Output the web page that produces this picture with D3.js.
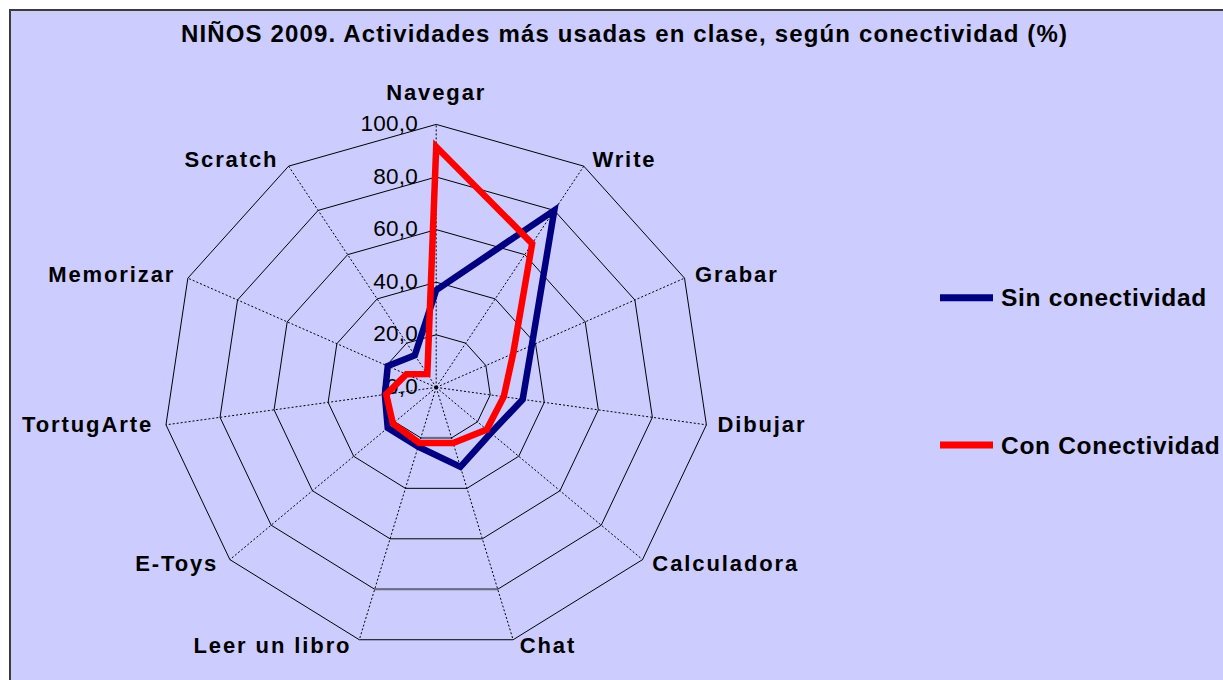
<!DOCTYPE html>
<html>
<head>
<meta charset="utf-8">
<script src="https://cdn.jsdelivr.net/npm/d3@7"></script>
<style>
  html, body { margin: 0; padding: 0; background: #ffffff; }
  svg { display: block; }
</style>
</head>
<body>
<svg id="chart" width="1223" height="680"></svg>
<script>
// ---- Data ----
const title = "NIÑOS 2009. Actividades más usadas en clase, según conectividad (%)";
const categories = ["Navegar", "Write", "Grabar", "Dibujar", "Calculadora", "Chat",
                    "Leer un libro", "E-Toys", "TortugArte", "Memorizar", "Scratch"];
const sinConectividad = [37, 80, 38.5, 32, 26.5, 31.5, 23.5, 23.5, 19, 19.5, 14.5];
const conConectividad = [91.5, 65, 31, 25, 24.5, 22, 22, 21, 18.5, 12, 6];
const seriesNames = ["Sin conectividad", "Con Conectividad"];
const seriesColors = ["#000080", "#ff0000"];
const tickValues = [0, 20, 40, 60, 80, 100];
const tickLabels = ["0,0", "20,0", "40,0", "60,0", "80,0", "100,0"];

// ---- Layout ----
const W = 1223, H = 680;
const cx = 436.2, cy = 387.4;
const RX = 273, RY = 263;
const n = categories.length;

const svg = d3.select("#chart");

// background panel
svg.append("rect")
  .attr("x", 10).attr("y", 10)
  .attr("width", W + 20).attr("height", H + 20)
  .attr("fill", "#ccccff")
  .attr("stroke", "#3c3c3c").attr("stroke-width", 2);

const angle = d3.scaleLinear().domain([0, n]).range([0, 2 * Math.PI]);
const r = d3.scaleLinear().domain([0, 100]).range([0, 1]);

const px = (i, v) => cx + r(v) * RX * Math.sin(angle(i));
const py = (i, v) => cy - r(v) * RY * Math.cos(angle(i));

const g = svg.append("g");

// rings
const ringLine = d3.line().curve(d3.curveLinearClosed);
tickValues.filter(t => t > 0).forEach(t => {
  const pts = d3.range(n).map(i => [px(i, t), py(i, t)]);
  g.append("path")
    .attr("d", ringLine(pts))
    .attr("fill", "none")
    .attr("stroke", "#000")
    .attr("stroke-width", 1);
});
// odd grey bottom segments visible in the reference
[20, 80].forEach(t => {
  g.append("line")
    .attr("x1", px(5, t)).attr("y1", py(5, t))
    .attr("x2", px(6, t)).attr("y2", py(6, t))
    .attr("stroke", "#6a6a80").attr("stroke-width", 2);
});

// spokes
d3.range(n).forEach(i => {
  g.append("line")
    .attr("x1", cx).attr("y1", cy)
    .attr("x2", px(i, 100)).attr("y2", py(i, 100))
    .attr("stroke", "#000")
    .attr("stroke-width", 1)
    .attr("stroke-dasharray", "2,2");
});
g.append("circle").attr("cx", cx).attr("cy", cy).attr("r", 2).attr("fill", "#000");

// tick labels
g.selectAll("text.tick")
  .data(tickValues)
  .join("text")
  .attr("class", "tick")
  .attr("x", cx - 18)
  .attr("y", d => py(0, d) + 6.5)
  .attr("text-anchor", "end")
  .attr("font-family", "Liberation Sans, Arial, sans-serif")
  .attr("font-size", 22.5)
  .attr("letter-spacing", 0.3)
  .attr("fill", "#000")
  .text((d, i) => tickLabels[i]);

// category labels
categories.forEach((c, i) => {
  const a = angle(i);
  const s = Math.sin(a), co = Math.cos(a);
  const vx = px(i, 100), vy = py(i, 100);
  let x, y, anchor;
  if (Math.abs(s) < 0.05) {
    x = vx; y = vy - 24; anchor = "middle";
  } else {
    x = vx + Math.sign(s) * (s > 0 ? 11 : 13) * Math.pow(Math.abs(s), 0.4);
    y = vy + 6.5 - 7 * co;
    anchor = s > 0 ? "start" : "end";
  }
  g.append("text")
    .attr("x", x).attr("y", y)
    .attr("text-anchor", anchor)
    .attr("font-family", "Liberation Sans, Arial, sans-serif")
    .attr("font-weight", "bold")
    .attr("font-size", 22)
    .attr("letter-spacing", 1.9)
    .attr("fill", "#000")
    .text(c);
});

// series
const seriesData = [sinConectividad, conConectividad];
const line = d3.line()
  .x((d, i) => px(i, d))
  .y((d, i) => py(i, d))
  .curve(d3.curveLinearClosed);

seriesData.forEach((vals, k) => {
  g.append("path")
    .attr("d", line(vals))
    .attr("fill", "none")
    .attr("stroke", seriesColors[k])
    .attr("stroke-width", 6.5)
    .attr("stroke-linejoin", "miter");
});

// legend
const legendY = [297.7, 445];
seriesNames.forEach((name, k) => {
  svg.append("line")
    .attr("x1", 940).attr("x2", 993)
    .attr("y1", legendY[k]).attr("y2", legendY[k])
    .attr("stroke", seriesColors[k])
    .attr("stroke-width", 7);
  svg.append("text")
    .attr("x", 1001).attr("y", legendY[k] + 8.5)
    .attr("font-family", "Liberation Sans, Arial, sans-serif")
    .attr("font-weight", "bold")
    .attr("font-size", 24.5)
    .attr("letter-spacing", 0.7)
    .attr("fill", "#000")
    .text(name);
});

// title
svg.append("text")
  .attr("x", 624.5).attr("y", 42)
  .attr("text-anchor", "middle")
  .attr("font-family", "Liberation Sans, Arial, sans-serif")
  .attr("font-weight", "bold")
  .attr("font-size", 24)
  .attr("letter-spacing", 1.15)
  .attr("fill", "#000")
  .text(title);
</script>
</body>
</html>
